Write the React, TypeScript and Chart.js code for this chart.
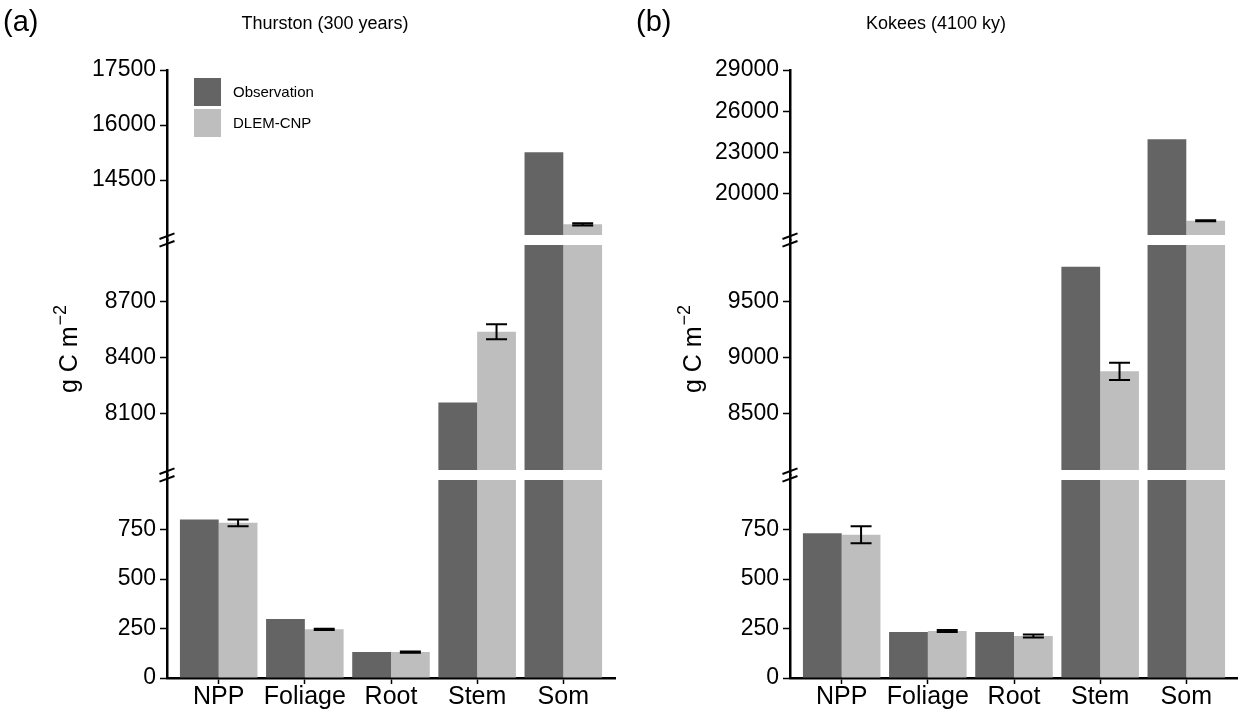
import React, { useEffect, useRef } from 'react';
import { Chart, registerables } from 'chart.js';

Chart.register(...registerables);

const FONT = "'Liberation Sans', Arial, sans-serif";
Chart.defaults.font.family = FONT;

// Shared categories and series
const categories = ['NPP', 'Foliage', 'Root', 'Stem', 'Som'];
const seriesNames = ['Observation', 'DLEM-CNP'];
const seriesColors = ['#646464', '#BEBEBE'];

// Thurston (300 years)
const thurstonObserved = [800, 298, 131, 8160, 15260];
const thurstonModel = [784, 246, 131, 8538, 13290];
const thurstonModelErr = [17, 3, 3, 40, 30];
const thurstonSegments = [[0, 1000], [7800, 9000], [13000, 17500]];
const thurstonTicks = [[0, 250, 500, 750], [8100, 8400, 8700], [14500, 16000, 17500]];

// Kokees (4100 ky)
const kokeesObserved = [731, 232, 232, 9807, 23960];
const kokeesModel = [724, 237, 212, 8877, 18040];
const kokeesModelErr = [43, 5, 8, 77, 40];
const kokeesSegments = [[0, 1000], [8000, 10000], [17000, 29000]];
const kokeesTicks = [[0, 250, 500, 750], [8500, 9000, 9500], [20000, 23000, 26000, 29000]];

// Broken value axis: pixel height of each segment (bottom, middle, top) and gap between them
const segmentHeights = [198, 225, 165];
const breakGap = 10;
const SEG_IDS = ['yBot', 'yMid', 'yTop'];

type PanelSpec = {
  tag: string;
  title: string;
  observed: number[];
  model: number[];
  modelErr: number[];
  segments: number[][];
  ticks: number[][];
  left: number;
  width: number;
  axisLeft: number;
  padRight: number;
  titleCenter: number;
  tagX: number;
  yTitleX: number;
  legend: boolean;
};

const panels: PanelSpec[] = [
  {
    tag: '(a)', title: 'Thurston (300 years)',
    observed: thurstonObserved, model: thurstonModel, modelErr: thurstonModelErr,
    segments: thurstonSegments, ticks: thurstonTicks,
    left: 0, width: 625, axisLeft: 167, padRight: 10, titleCenter: 325, tagX: 3, yTitleX: 77, legend: true,
  },
  {
    tag: '(b)', title: 'Kokees (4100 ky)',
    observed: kokeesObserved, model: kokeesModel, modelErr: kokeesModelErr,
    segments: kokeesSegments, ticks: kokeesTicks,
    left: 620, width: 618, axisLeft: 170, padRight: 0, titleCenter: 316, tagX: 16, yTitleX: 81, legend: false,
  },
];

function segmentScale(k: number, spec: PanelSpec) {
  const [lo, hi] = spec.segments[k];
  const perPx = (hi - lo) / segmentHeights[k];
  const gapBelow = k > 0 ? breakGap / 2 : 0;
  const gapAbove = k < 2 ? breakGap / 2 : 0;
  const tickValues = spec.ticks[k];
  return {
    type: 'linear',
    axis: 'y',
    position: 'left',
    stack: 'values',
    stackWeight: segmentHeights[k] + gapBelow + gapAbove,
    weight: k + 1,
    min: lo - gapBelow * perPx,
    max: hi + gapAbove * perPx,
    bounds: 'data',
    beginAtZero: false,
    stacked: false,
    afterBuildTicks: (scale: any) => {
      scale.ticks = tickValues.map((v) => ({ value: v }));
    },
    afterFit: (scale: any) => {
      scale.width = spec.axisLeft;
    },
    ticks: {
      autoSkip: false,
      color: '#000',
      padding: 4,
      font: { size: 23, family: FONT },
      callback: (v: number) => String(v),
    },
    grid: {
      drawOnChartArea: false,
      drawTicks: true,
      offset: false,
      tickLength: 7,
      tickWidth: 1.5,
      tickColor: '#000',
    },
    border: { display: true, color: '#000', width: 2.5 },
  };
}

function segmentDatasets(values: number[], spec: PanelSpec, s: number) {
  return spec.segments.map(([lo, hi], k) => ({
    type: 'bar',
    label: seriesNames[s],
    stack: seriesNames[s],
    xAxisID: 'x',
    yAxisID: SEG_IDS[k],
    data: values
      .map((v, i) => (v > lo ? { x: i, y: [lo, Math.min(v, hi)] } : null))
      .filter((d) => d !== null),
    backgroundColor: seriesColors[s],
    borderWidth: 0,
    categoryPercentage: 0.9,
    barPercentage: 1,
  }));
}

function makeDecor(spec: PanelSpec) {
  return {
    id: 'panelDecor',
    afterDraw(chart: any) {
      const ctx: CanvasRenderingContext2D = chart.ctx;
      const area = chart.chartArea;
      ctx.save();
      ctx.fillStyle = '#000';
      ctx.strokeStyle = '#000';

      // panel tag and title
      ctx.textAlign = 'left';
      ctx.textBaseline = 'alphabetic';
      ctx.font = `29px ${FONT}`;
      ctx.fillText(spec.tag, spec.tagX, 31);
      ctx.textAlign = 'center';
      ctx.font = `18px ${FONT}`;
      ctx.fillText(spec.title, spec.titleCenter, 29);

      // y-axis title with superscript unit
      ctx.save();
      ctx.translate(spec.yTitleX, 349);
      ctx.rotate(-Math.PI / 2);
      const main = 'g C m';
      const sup = '\u22122';
      ctx.font = `25px ${FONT}`;
      const w1 = ctx.measureText(main).width;
      ctx.font = `18px ${FONT}`;
      const w2 = ctx.measureText(sup).width;
      const start = -(w1 + w2 + 1) / 2;
      ctx.textAlign = 'left';
      ctx.font = `25px ${FONT}`;
      ctx.fillText(main, start, 0);
      ctx.font = `18px ${FONT}`;
      ctx.fillText(sup, start + w1 + 1, -11);
      ctx.restore();

      // break marks on the value axis
      const ax = area.left;
      ctx.lineWidth = 2;
      for (const id of ['yMid', 'yTop']) {
        const b = chart.scales[id].bottom;
        for (const d of [-3.8, 3.8]) {
          ctx.beginPath();
          ctx.moveTo(ax - 7.5, b + d + 2.8);
          ctx.lineTo(ax + 7.5, b + d - 2.8);
          ctx.stroke();
        }
      }

      // error bars on the model series
      const modelMeta = chart.getDatasetMeta(spec.segments.length);
      ctx.lineWidth = 2;
      spec.model.forEach((v, i) => {
        const el = modelMeta.data[i];
        if (!el) return;
        const k = spec.segments.findIndex(([lo, hi]) => v >= lo && v <= hi);
        if (k < 0) return;
        const scale = chart.scales[SEG_IDS[k]];
        const x = el.x;
        const yHi = scale.getPixelForValue(v + spec.modelErr[i]);
        const yLo = scale.getPixelForValue(v - spec.modelErr[i]);
        ctx.beginPath();
        ctx.moveTo(x, yHi);
        ctx.lineTo(x, yLo);
        ctx.moveTo(x - 10.5, yHi);
        ctx.lineTo(x + 10.5, yHi);
        ctx.moveTo(x - 10.5, yLo);
        ctx.lineTo(x + 10.5, yLo);
        ctx.stroke();
      });

      // legend
      if (spec.legend) {
        ctx.font = `15px ${FONT}`;
        ctx.textAlign = 'left';
        ctx.textBaseline = 'middle';
        seriesNames.forEach((name, s) => {
          const top = 78 + s * 31;
          ctx.fillStyle = seriesColors[s];
          ctx.fillRect(194, top, 27, 28);
          ctx.fillStyle = '#000';
          ctx.fillText(name, 233, top + 15);
        });
      }
      ctx.restore();
    },
  };
}

function buildConfig(spec: PanelSpec): any {
  const scales: any = {
    x: {
      type: 'linear',
      position: 'bottom',
      min: -0.6,
      max: 4.6,
      offset: false,
      bounds: 'data',
      afterBuildTicks: (scale: any) => {
        scale.ticks = categories.map((_, i) => ({ value: i }));
      },
      afterFit: (scale: any) => {
        scale.height = 35;
      },
      ticks: {
        autoSkip: false,
        maxRotation: 0,
        color: '#000',
        padding: -2,
        font: { size: 25, family: FONT },
        callback: (_v: number, i: number) => categories[i] ?? '',
      },
      grid: {
        drawOnChartArea: false,
        offset: false,
        tickLength: 6,
        tickWidth: 1.5,
        tickColor: '#000',
      },
      border: { display: true, color: '#000', width: 2.5 },
    },
  };
  SEG_IDS.forEach((id, k) => {
    scales[id] = segmentScale(k, spec);
  });

  return {
    type: 'bar',
    data: {
      datasets: [
        ...segmentDatasets(spec.observed, spec, 0),
        ...segmentDatasets(spec.model, spec, 1),
      ],
    },
    options: {
      animation: false,
      responsive: false,
      layout: { padding: { top: 70, left: 0, right: spec.padRight, bottom: 0 } },
      plugins: {
        legend: { display: false },
        tooltip: { enabled: false },
        title: { display: false },
      },
      scales,
    },
    plugins: [makeDecor(spec)],
  };
}

function Panel({ spec }: { spec: PanelSpec }) {
  const ref = useRef<HTMLCanvasElement>(null);
  useEffect(() => {
    if (!ref.current) return;
    const chart = new Chart(ref.current, buildConfig(spec));
    return () => chart.destroy();
  }, [spec]);
  return (
    <canvas
      ref={ref}
      width={spec.width}
      height={713}
      style={{ position: 'absolute', left: spec.left, top: 0, width: spec.width, height: 713, display: 'block' }}
    />
  );
}

export default function App() {
  return (
    <div style={{ position: 'fixed', left: 0, top: 0, width: 1238, height: 713, background: '#fff', overflow: 'hidden' }}>
      {panels.map((p) => (
        <Panel key={p.tag} spec={p} />
      ))}
    </div>
  );
}
